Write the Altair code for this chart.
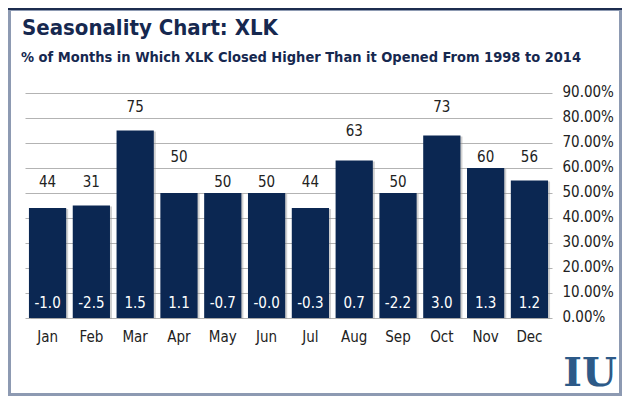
import altair as alt
import pandas as pd

months = ["Jan", "Feb", "Mar", "Apr", "May", "Jun", "Jul", "Aug", "Sep", "Oct", "Nov", "Dec"]
pct_higher = [44, 45, 75, 50, 50, 50, 44, 63, 50, 73, 60, 55]
top_labels = ["44", "31", "75", "50", "50", "50", "44", "63", "50", "73", "60", "56"]
label_level = [54.5, 54.5, 84.5, 64.5, 54.5, 54.5, 54.5, 75, 54.5, 84.5, 64.5, 64.5]
avg_return = ["-1.0", "-2.5", "1.5", "1.1", "-0.7", "-0.0", "-0.3", "0.7", "-2.2", "3.0", "1.3", "1.2"]
y_ticks = [0, 10, 20, 30, 40, 50, 60, 70, 80, 90]
title_text = "Seasonality Chart: XLK"
subtitle_text = "% of Months in Which XLK Closed Higher Than it Opened From 1998 to 2014"

df = pd.DataFrame({
    "month": months,
    "pct": pct_higher,
    "top": top_labels,
    "level": label_level,
    "ret": avg_return,
})

FONT = "'DejaVu Sans Condensed', 'Liberation Sans Narrow', sans-serif"
NAVY = "#0b2752"
TITLE_C = "#16284f"

W, H = 527, 225
PL, PT, PR, PB = 17, 85, 70, 78

x = alt.X("month:N", sort=months, title=None,
          scale=alt.Scale(paddingInner=0.15, paddingOuter=0.09),
          axis=alt.Axis(labelFont=FONT, labelFontSize=15, labelColor="#222222",
                        labelPadding=11, ticks=False, domain=False, labelAngle=0))
yscale = alt.Scale(domain=[0, 90], nice=False)
yaxis = alt.Axis(orient="right", values=y_ticks, grid=True, gridColor="#b3b3b3",
                 gridWidth=1, ticks=False, domain=False, labelOverlap=False,
                 labelExpr="format(datum.value, '.2f') + '%'",
                 labelFont=FONT, labelFontSize=15, labelColor="#222222",
                 labelAlign="left", labelPadding=10, labelOffset=-2, title=None)

base = alt.Chart(df)

shadow = base.mark_bar(color="#9a9a9a", opacity=0.45, xOffset=2, yOffset=1).encode(
    x=x,
    y=alt.Y("pct:Q", scale=yscale, axis=yaxis, title=None),
)

bars = base.mark_bar(color=NAVY).encode(
    x=x,
    y=alt.Y("pct:Q", scale=yscale, axis=yaxis, title=None),
)

tops = base.mark_text(font=FONT, fontSize=15, color="#222222", baseline="middle").encode(
    x=x,
    y=alt.Y("level:Q", scale=yscale, axis=yaxis, title=None),
    text="top:N",
)

rets = base.mark_text(font=FONT, fontSize=15, color="white", baseline="middle").encode(
    x=x,
    y=alt.YDatum(6, scale=yscale, axis=yaxis, title=None),
    text="ret:N",
)

one = pd.DataFrame({"a": [0]})

frame = alt.Chart(one).mark_rect(
    fill=None, stroke="#8d9ab2", strokeWidth=3
).encode(
    x=alt.value(-PL + 1.5), x2=alt.value(W + PR - 1.5),
    y=alt.value(-PT + 1.5), y2=alt.value(H + PB - 1.5),
)

topline = alt.Chart(one).mark_rule(
    color="#1c2c4f", strokeWidth=2
).encode(
    x=alt.value(-PL), x2=alt.value(W + PR), y=alt.value(-PT + 1),
)

title = alt.Chart(pd.DataFrame({"t": [title_text]})).mark_text(
    font=FONT, fontSize=22, fontWeight="bold", color=TITLE_C,
    align="left", baseline="alphabetic"
).encode(x=alt.value(-3), y=alt.value(-58), text="t:N")

subtitle = alt.Chart(pd.DataFrame({"t": [subtitle_text]})).mark_text(
    font=FONT, fontSize=14.5, fontWeight="bold", color=TITLE_C,
    align="left", baseline="alphabetic"
).encode(x=alt.value(-4), y=alt.value(-31), text="t:N")

logo = alt.Chart(pd.DataFrame({"t": ["IU"]})).mark_text(
    font="'DejaVu Serif', 'Liberation Serif', serif", fontSize=40, fontWeight="bold",
    color="#2d5a88", align="center", baseline="bottom"
).encode(
    x=alt.value(W + 38), y=alt.value(H + 76), text="t:N",
)

chart = alt.layer(shadow, bars, tops, rets, frame, topline, title, subtitle, logo).properties(
    width=W, height=H,
    padding={"left": PL, "top": PT, "right": PR, "bottom": PB},
    autosize=alt.AutoSizeParams(type="none"),
    background="white",
).configure_view(stroke=None)

chart.save("out.html", embed_options={"renderer": "svg", "actions": False})
